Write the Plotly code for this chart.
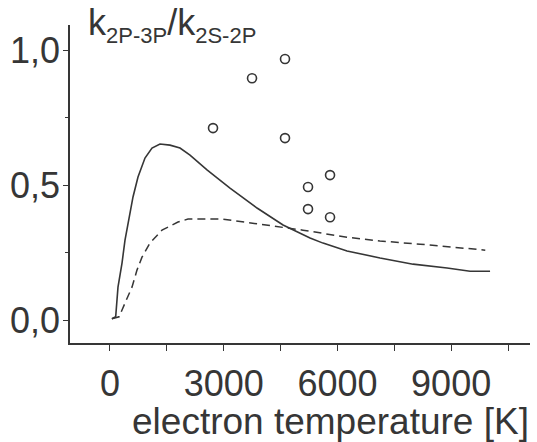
import plotly.graph_objects as go

# Solid curve: ratio k(2P-3P)/k(2S-2P), model 1
t_solid = [50, 150, 211, 317, 396, 528, 607, 739, 923, 1108, 1319, 1583, 1847,
           2111, 2559, 3166, 3879, 4565, 5013, 5277, 5620, 6253, 7124, 7995,
           8892, 9499, 10026]
v_solid = [0.005, 0.012, 0.122, 0.211, 0.296, 0.396, 0.456, 0.53, 0.60, 0.637,
           0.652, 0.648, 0.637, 0.611, 0.556, 0.489, 0.415, 0.352, 0.322, 0.304,
           0.285, 0.256, 0.23, 0.207, 0.193, 0.181, 0.181]

# Dashed curve: model 2
t_dash = [50, 240, 396, 580, 712, 844, 1055, 1372, 1794, 2058, 2980, 3690, 4400,
          5090, 6250, 7120, 8180, 9050, 9900]
v_dash = [0.005, 0.012, 0.063, 0.122, 0.185, 0.233, 0.285, 0.333, 0.363, 0.374,
          0.374, 0.36, 0.344, 0.333, 0.307, 0.293, 0.281, 0.27, 0.259]

# Measured points
t_meas = [2718, 3747, 4617, 4617, 5805, 5224, 5224, 5805]
v_meas = [0.711, 0.896, 0.967, 0.674, 0.537, 0.493, 0.411, 0.381]

x_ticks = [0, 1500, 3000, 4500, 6000, 7500, 9000, 10500]
x_ticktext = ["0", "", "3000", "", "6000", "", "9000", ""]
y_ticks = [0.0, 0.5, 1.0]
y_ticktext = ["0,0", "0,5", "1,0"]

ink = "#363636"
font_family = "Liberation Sans, Arial, sans-serif"

fig = go.Figure()
fig.add_trace(go.Scatter(x=t_solid, y=v_solid, mode="lines",
                         line=dict(color=ink, width=1.6),
                         showlegend=False))
fig.add_trace(go.Scatter(x=t_dash, y=v_dash, mode="lines",
                         line=dict(color=ink, width=1.5, dash="8px,5px"),
                         showlegend=False))
fig.add_trace(go.Scatter(x=t_meas, y=v_meas, mode="markers",
                         marker=dict(symbol="circle-open", size=9, color=ink,
                                     line=dict(width=1.6, color=ink)),
                         showlegend=False))

sub_style = "font-size:22px"
ratio_label = (f"k<sub><span style='{sub_style}'>2P-3P</span></sub>"
               f"/k<sub><span style='{sub_style}'>2S-2P</span></sub>")

fig.update_layout(
    width=537, height=442,
    margin=dict(l=70, r=7, t=25, b=99),
    paper_bgcolor="white", plot_bgcolor="white",
    font=dict(family=font_family, color=ink, size=36),
    xaxis=dict(range=[-1055, 11080], showline=True, linecolor=ink, linewidth=1.5,
               showgrid=False, zeroline=False, ticks="outside", ticklen=6,
               tickwidth=1.3, tickcolor=ink, tickvals=x_ticks, ticktext=x_ticktext,
               tickfont=dict(size=36), ticklabelstandoff=2),
    yaxis=dict(range=[-0.085, 1.093], showline=True, linecolor=ink, linewidth=1.5,
               showgrid=False, zeroline=False, ticks="outside", ticklen=5,
               tickwidth=1.3, tickcolor=ink, tickvals=y_ticks, ticktext=y_ticktext,
               tickfont=dict(size=36), ticklabelstandoff=-4,
               minor=dict(tickvals=[0.25, 0.75], ticks="outside", ticklen=3,
                          tickcolor=ink, tickwidth=1)),
    annotations=[
        dict(text="electron temperature [K]", xref="paper", yref="paper",
             x=1.003, y=-0.246, xanchor="right", yanchor="middle", showarrow=False,
             font=dict(size=37, color=ink)),
        dict(text=ratio_label, xref="paper", yref="paper",
             x=0.035, y=1.078, xanchor="left", yanchor="top", showarrow=False,
             font=dict(size=36, color=ink)),
    ],
)

fig.write_html("out.html")
